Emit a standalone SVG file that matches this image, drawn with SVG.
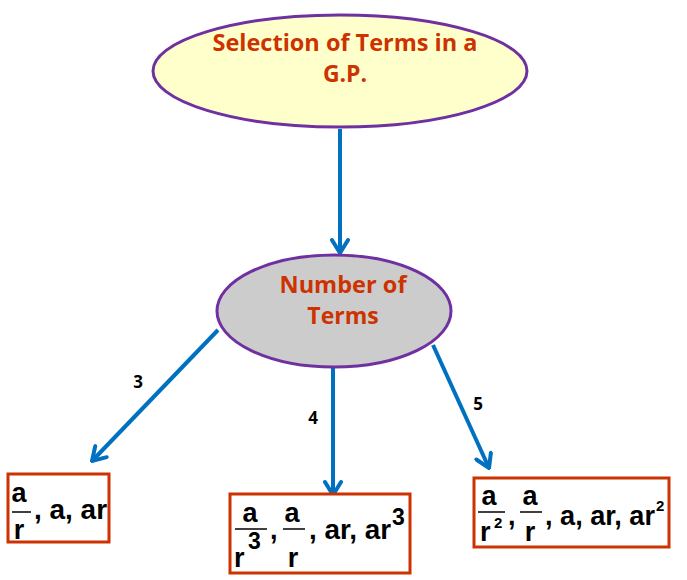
<svg xmlns="http://www.w3.org/2000/svg" width="687" height="580" viewBox="0 0 687 580">
<style>
.ell{stroke:#7030A0;stroke-width:3}
.title{font-family:"Open Sans","Noto Sans",sans-serif;font-weight:bold;font-size:23px;fill:#CC3300;text-anchor:middle}
.conn{stroke:#0070C0;stroke-width:4;fill:none}
.lbl{font-family:"Open Sans","Noto Sans",sans-serif;font-weight:bold;font-size:17px;fill:#000;text-anchor:middle}
.box{fill:#fff;stroke:#CC3300;stroke-width:3}
.m{font-family:"Liberation Sans",Arial,sans-serif;font-weight:bold;font-size:27px;fill:#000}
.f{font-family:"Liberation Sans",Arial,sans-serif;font-weight:bold;font-size:27px;fill:#000;text-anchor:middle}
.s3{font-family:"Liberation Sans",Arial,sans-serif;font-weight:bold;font-size:23px;fill:#000}
.s2{font-family:"Liberation Sans",Arial,sans-serif;font-weight:bold;font-size:15px;fill:#000}
.bar{stroke:#000;stroke-width:1.5}
</style>
<defs>
<marker id="ah" viewBox="-16 -10 18 20" refX="0" refY="0" markerWidth="18" markerHeight="20" markerUnits="userSpaceOnUse" orient="auto">
<path d="M-13,-8 L0,0 L-13,8" fill="none" stroke="#0070C0" stroke-width="4" stroke-linecap="round" stroke-linejoin="miter"/>
</marker>
</defs>
<g id="connectors">
<line class="conn" x1="340" y1="129" x2="340" y2="253" marker-end="url(#ah)"/>
<line class="conn" x1="218" y1="330" x2="92" y2="461" marker-end="url(#ah)"/>
<line class="conn" x1="333" y1="368" x2="333" y2="495" marker-end="url(#ah)"/>
<line class="conn" x1="433" y1="345" x2="489" y2="468" marker-end="url(#ah)"/>
<text class="lbl" x="138" y="388">3</text>
<text class="lbl" x="313" y="424">4</text>
<text class="lbl" x="478" y="410">5</text>
</g>
<g id="node-title">
<ellipse class="ell" cx="340" cy="71" rx="187" ry="56" fill="#FFFFCC"/>
<text class="title" x="345" y="51" textLength="265" lengthAdjust="spacingAndGlyphs">Selection of Terms in a</text>
<text class="title" x="345" y="82">G.P.</text>
</g>
<g id="node-number">
<ellipse class="ell" cx="334" cy="311" rx="117" ry="56" fill="#CCCCCC"/>
<text class="title" x="343" y="293" textLength="127" lengthAdjust="spacingAndGlyphs">Number of</text>
<text class="title" x="343" y="324">Terms</text>
</g>
<g id="node-three">
<rect class="box" x="8" y="474" width="101" height="68"/>
<text class="f" x="19" y="502">a</text>
<line class="bar" x1="12" y1="512" x2="31" y2="512"/>
<text class="f" x="19" y="539">r</text>
<text class="m" x="34" y="519" textLength="73" lengthAdjust="spacingAndGlyphs">, a, ar</text>
</g>
<g id="node-four">
<rect class="box" x="230" y="494" width="180" height="79"/>
<text class="f" x="250" y="522">a</text>
<line class="bar" x1="235" y1="529" x2="267" y2="529"/>
<text class="m" x="234" y="567">r</text>
<text class="s3" x="248" y="549">3</text>
<text class="m" x="270" y="539">,</text>
<text class="f" x="292" y="522">a</text>
<line class="bar" x1="283" y1="529" x2="305" y2="529"/>
<text class="f" x="293" y="567">r</text>
<text class="m" x="309" y="539" textLength="82" lengthAdjust="spacingAndGlyphs">, ar, ar</text>
<text class="s3" x="392" y="525">3</text>
</g>
<g id="node-five">
<rect class="box" x="474" y="478" width="195" height="69"/>
<text class="f" x="489" y="505">a</text>
<line class="bar" x1="478" y1="512" x2="505" y2="512"/>
<text class="m" x="480" y="541">r</text>
<text class="s2" x="494" y="528">2</text>
<text class="m" x="508" y="525">,</text>
<text class="f" x="530" y="505">a</text>
<line class="bar" x1="520" y1="512" x2="542" y2="512"/>
<text class="f" x="530" y="541">r</text>
<text class="m" x="545" y="525" textLength="110" lengthAdjust="spacingAndGlyphs">, a, ar, ar</text>
<text class="s2" x="656" y="511">2</text>
</g>
</svg>
